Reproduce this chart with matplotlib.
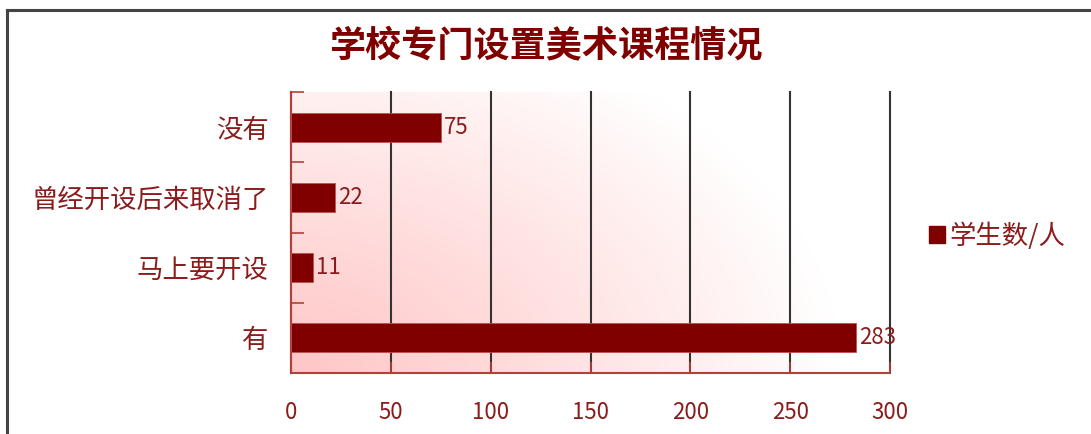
import numpy as np
import matplotlib
matplotlib.use("Agg")
import matplotlib.pyplot as plt
from matplotlib.lines import Line2D
from matplotlib.patches import Patch

plt.rcParams['font.family'] = ['Noto Sans CJK SC', 'DejaVu Sans']

# data (bottom to top)
categories = ["有", "马上要开设", "曾经开设后来取消了", "没有"]
counts = [283, 11, 22, 75]
x_ticks = [0, 50, 100, 150, 200, 250, 300]
series_name = "学生数/人"
title = "学校专门设置美术课程情况"

dark_red = "#800000"
text_red = "#8b1c1c"
axis_red = "#b5403a"

fig = plt.figure(figsize=(10.91, 4.34), dpi=100)
ax = fig.add_axes([291 / 1091, 61 / 434, 599 / 1091, 281 / 434])

# gradient background, pink at bottom-left fading to white toward the right
gx, gy = np.meshgrid(np.linspace(0, 1, 300), np.linspace(0, 1, 150))
d = np.sqrt(gx ** 2 + (0.7 * gy) ** 2) / 0.92
t = np.clip(d, 0, 1) ** 1.1
pink = np.array([1.0, 0.78, 0.78])
img = (1 - t[..., None]) * pink + t[..., None] * np.ones(3)
ax.imshow(img, extent=[0, 300, -0.5, 3.5], origin="lower", aspect="auto", zorder=0)

y = np.arange(len(categories))
ax.barh(y, counts, height=0.41, color=dark_red, edgecolor="#c05050",
        linewidth=0.6, zorder=3)
for yi, v in zip(y, counts):
    ax.text(v + 1.5, yi, str(v), va="center", ha="left", fontsize=16,
            color=text_red, zorder=4)

ax.set_xlim(0, 300)
ax.set_ylim(-0.5, 3.5)
ax.set_xticks(x_ticks)
ax.set_xticklabels([str(v) for v in x_ticks])
ax.set_yticks(y)
ax.set_yticklabels(categories)
ax.set_yticks([0.5, 1.5, 2.5, 3.5], minor=True)
ax.tick_params(axis='y', which='major', length=0, pad=16, labelsize=19,
               labelcolor=text_red)
ax.tick_params(axis='y', which='minor', direction='in', length=9,
               color=axis_red, width=1.2)
ax.tick_params(axis='x', direction='in', length=8, color=axis_red, width=1.2,
               pad=20, labelsize=16, labelcolor=text_red)

ax.grid(axis='x', color="#333333", linewidth=1.5, zorder=1)
ax.set_axisbelow(True)
for gl in ax.get_xgridlines():
    gl.set_clip_on(False)
for s in ["top", "right"]:
    ax.spines[s].set_visible(False)
for s in ["left", "bottom"]:
    ax.spines[s].set_color(axis_red)
    ax.spines[s].set_linewidth(1.5)

fig.text(0.5, 1 - 46 / 434, title, ha="center", va="center", fontsize=26,
         fontweight="bold", color=dark_red)

handle = Patch(facecolor=dark_red, edgecolor=dark_red)
fig.legend([handle], [series_name], loc="center left",
           bbox_to_anchor=(916 / 1091, 1 - 236 / 434), frameon=False,
           fontsize=19, labelcolor=text_red, handlelength=0.6,
           handleheight=0.6, handletextpad=0.15, borderpad=0)

# outer frame
fig.add_artist(Line2D([7 / 1091, 1], [1 - 10 / 434] * 2, color="#444444",
                      linewidth=2.2))
fig.add_artist(Line2D([7 / 1091] * 2, [0, 1 - 10 / 434], color="#444444",
                      linewidth=2.2))

fig.savefig("out.png", dpi=100)
